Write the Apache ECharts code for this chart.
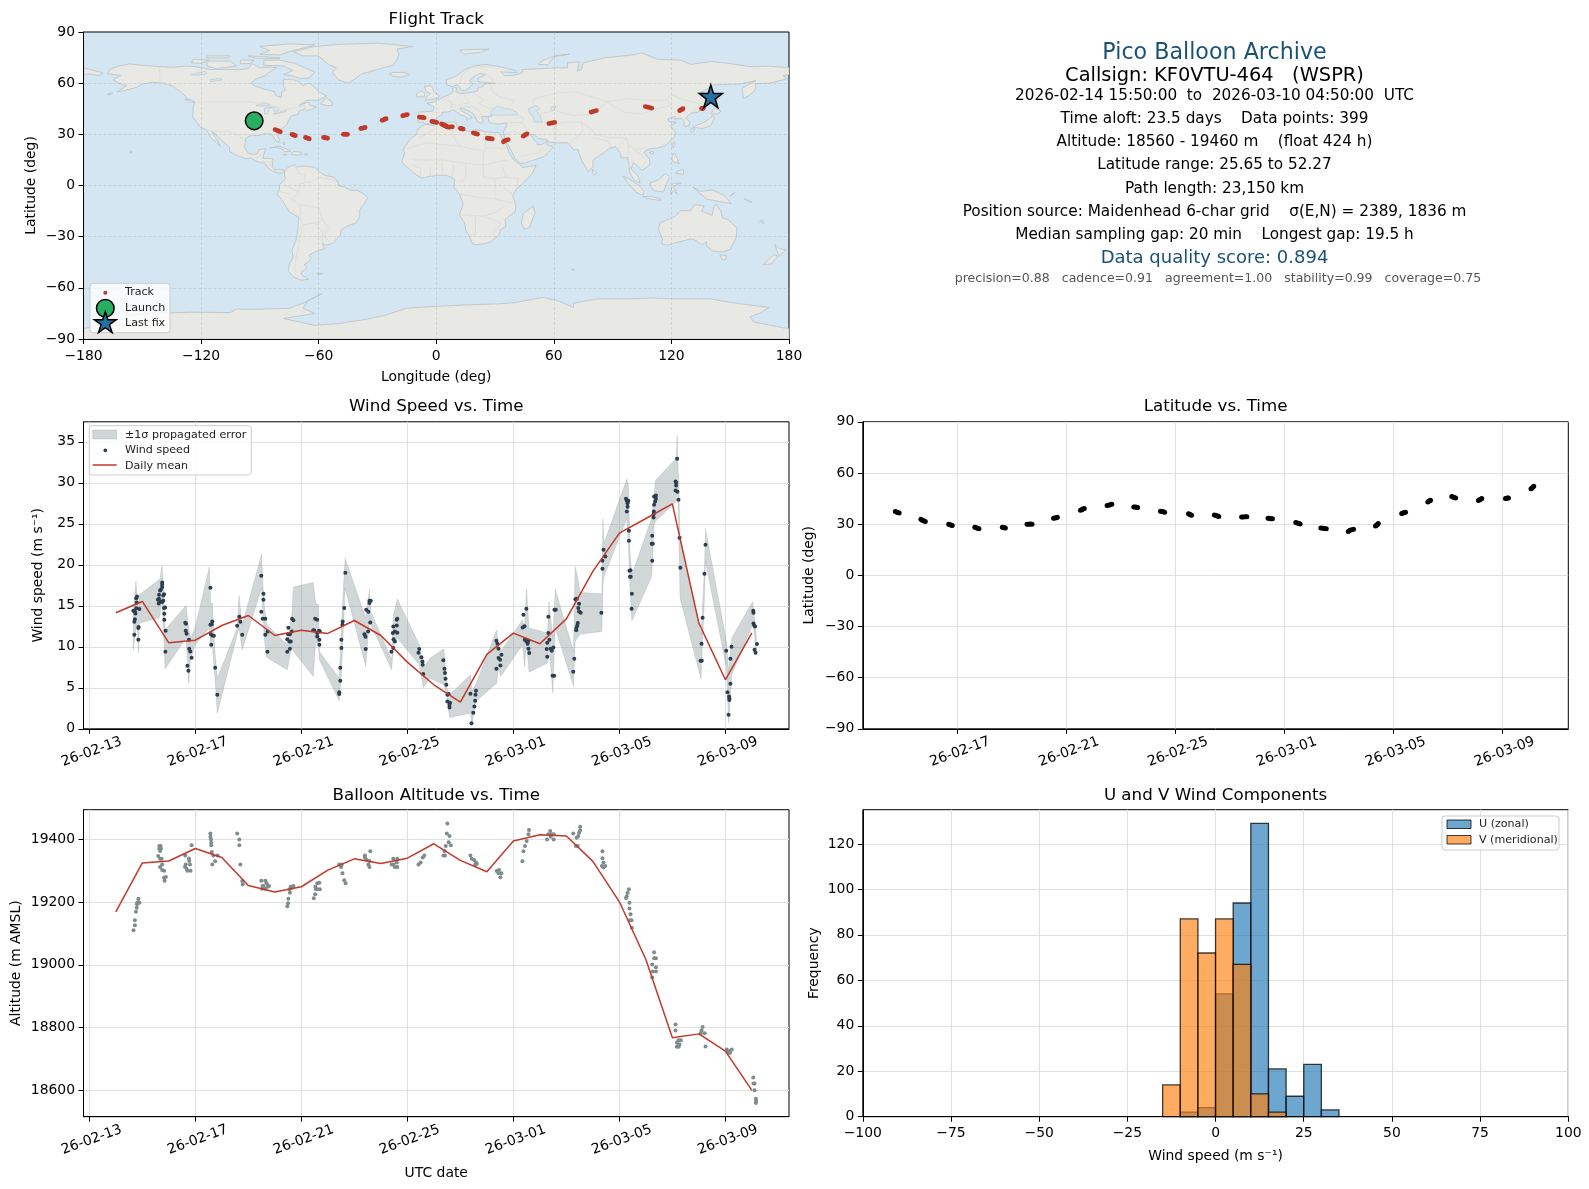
<!DOCTYPE html>
<html><head><meta charset="utf-8"><title>Pico Balloon Archive</title>
<style>html,body{margin:0;padding:0;background:#fff}#c{width:1589px;height:1189px}</style>
<script src="https://cdn.jsdelivr.net/npm/echarts@6/dist/echarts.min.js"></script></head>
<body><div id="c"></div><script>
// ---------- tick labels (time is counted in days since 2026-02-13 00:00) ----------
const dateTicks=[0,4,8,12,16,20,24];
const dateLabels=['26-02-13','26-02-17','26-02-21','26-02-25','26-03-01','26-03-05','26-03-09'];
const windTicks=[0,5,10,15,20,25,30,35];
const altTicks=[18600,18800,19000,19200,19400];
const freqTicks=[0,20,40,60,80,100,120];
// ---------- wind speed [day, m/s] ----------
const windPoints=[
[1.66,14.39],[1.70,11.46],[1.70,13.05],[1.72,13.37],[1.72,14.3],[1.74,14.07],[1.77,15.93],[1.77,14.7],[1.79,15.4],[1.80,16.14],[1.85,12.28],[1.85,10.85],[1.86,12.4],[1.89,14.6],
[2.59,15.73],[2.62,15.28],[2.63,16.34],[2.63,15.85],[2.67,16.87],[2.67,15.53],[2.70,16.95],[2.75,17.85],[2.75,17.56],[2.75,17.28],[2.75,15.45],[2.79,16.26],[2.79,15.61],[2.82,16.42],[2.82,14.72],[2.83,14.02],[2.83,13.29],[2.86,14.80],[2.87,9.39],[2.88,11.95],
[3.62,12.93],[3.64,11.95],[3.65,12.80],[3.67,11.59],[3.70,7.68],[3.74,7.07],[3.76,10.85],[3.77,9.76],[3.81,9.43],[3.86,8.66],
[4.57,17.20],[4.57,12.68],[4.59,11.54],[4.60,10.24],[4.62,12.76],[4.64,13.09],[4.64,11.38],[4.70,11.34],[4.75,7.44],[4.83,4.15],
[5.58,12.56],[5.66,13.66],[5.70,13.05],[5.77,11.46],
[6.49,18.66],[6.49,14.27],[6.54,13.41],[6.57,16.46],[6.57,15.73],[6.64,13.41],[6.64,11.46],[6.72,9.39],[6.73,11.87],
[7.47,10.93],[7.47,9.39],[7.50,11.54],[7.51,12.32],[7.55,10.65],[7.57,11.54],[7.57,9.76],[7.60,10.65],[7.64,11.87],[7.65,13.41],[7.70,13.25],
[8.45,12.03],[8.49,11.99],[8.52,13.41],[8.60,13.29],[8.60,11.67],[8.60,11.26],[8.67,11.95],[8.68,10.85],[8.68,10.24],[8.70,11.87],
[9.43,4.47],[9.43,4.23],[9.47,5.85],[9.47,7.44],[9.51,9.84],[9.51,10.85],[9.55,12.68],[9.56,13.09],[9.62,14.72],[9.66,19.02],
[10.38,11.54],[10.42,11.22],[10.43,9.72],[10.45,14.51],[10.52,11.87],[10.53,14.27],[10.57,15.33],[10.57,15.61],[10.60,12.97],[10.62,15.61],
[11.40,9.39],[11.45,11.67],[11.47,9.84],[11.47,12.48],[11.48,10.93],[11.53,10.65],[11.53,11.87],[11.60,12.60],[11.60,13.29],[11.62,11.71],[11.62,13.41],
[12.42,9.27],[12.45,9.72],[12.53,8.74],[12.57,8.21],[12.58,7.80],[12.60,6.67],
[13.36,8.37],[13.40,7.32],[13.42,6.79],[13.44,6.10],[13.47,5.37],[13.51,4.15],[13.51,3.33],[13.56,4.23],[13.59,2.60],[13.59,2.93],[13.61,3.17],
[14.38,4.27],[14.42,0.69],[14.49,1.95],[14.53,2.72],[14.56,3.41],[14.57,4.15],[14.59,4.63],
[15.36,10.73],[15.36,7.32],[15.40,10.37],[15.44,9.76],[15.44,8.62],[15.50,8.41],[15.51,7.72],[15.55,9.02],
[16.35,12.36],[16.38,13.90],[16.42,12.52],[16.43,10.85],[16.49,14.63],[16.50,10.65],[16.54,10.37],[16.57,10.73],[16.57,9.76],[16.60,9.23],
[17.26,9.72],[17.28,10.49],[17.28,8.78],[17.32,13.66],[17.32,11.67],[17.36,10.85],[17.41,9.76],[17.45,9.51],[17.48,6.46],[17.51,9.92],[17.54,6.46],[17.55,14.51],[17.60,14.51],
[18.26,6.95],[18.30,8.54],[18.34,15.81],[18.37,12.03],[18.38,12.28],[18.39,15.85],[18.41,12.56],[18.43,12.89],[18.45,14.72],[18.48,15.24],[18.48,14.31],[18.54,14.15],
[19.32,14.15],[19.36,19.51],[19.36,20.49],[19.40,21.83],[19.47,21.02],
[20.25,28.05],[20.28,27.80],[20.28,26.50],[20.31,27.52],[20.31,27.07],[20.34,27.80],[20.36,24.15],[20.36,22.93],[20.38,19.27],[20.40,18.54],[20.42,19.35],[20.43,18.54],[20.46,14.63],[20.47,16.46],
[21.22,22.56],[21.24,20.49],[21.24,23.54],[21.26,22.56],[21.29,25.77],[21.29,26.18],[21.30,26.50],[21.31,27.32],[21.31,28.33],[21.35,27.72],[21.38,28.05],[21.38,28.46],
[22.12,30.16],[22.12,29.07],[22.14,30.04],[22.14,29.67],[22.18,32.93],[22.19,28.90],[22.23,27.93],[22.27,23.29],[22.30,19.63],
[23.06,8.29],[23.10,10.37],[23.11,8.29],[23.14,13.54],[23.21,18.90],[23.25,22.44],
[24.03,9.51],[24.08,4.47],[24.12,1.71],[24.14,3.94],[24.15,3.74],[24.15,3.50],[24.19,5.49],[24.19,8.54],[24.23,10.0],
[25.05,14.39],[25.06,14.15],[25.06,12.85],[25.09,12.60],[25.10,9.63],[25.12,12.48],[25.14,9.27],[25.19,10.33]];
// ---------- propagated error band [day, low, high] ----------
const windBand=[
[1.66,9.59,14.31],[1.76,12.28,18.05],[1.81,12.68,15.93],[1.85,9.23,14.31],[1.89,12.89,16.34],[2.63,13.50,18.17],[2.67,13.90,18.37],[2.74,15.93,19.88],[2.79,12.68,17.97],[2.86,7.28,12.07],
[3.65,11.06,15.04],[3.75,5.57,12.28],[3.82,8.41,11.06],[3.99,10.24,12.28],[4.53,12.28,19.76],[4.58,9.76,15.33],[4.64,10.24,15.33],[4.74,6.18,9.43],[4.83,1.91,6.18],
[5.58,11.46,12.28],[5.65,12.28,16.22],[5.77,9.63,12.68],[6.50,17.15,21.30],[6.55,14.31,17.56],[6.60,11.06,15.12],[6.69,8.70,12.68],[7.47,7.20,10.24],[7.64,10.24,13.90],[7.70,9.43,17.28],
[8.45,6.38,17.85],[8.54,10.65,15.33],[8.65,10.24,15.12],[8.68,8.41,9.43],[9.43,3.41,6.18],[9.52,6.99,13.09],[9.65,17.15,20.81],[10.43,7.60,13.50],[10.57,13.50,16.95],[10.62,12.68,14.31],
[11.41,7.20,8.41],[11.47,10.24,13.82],[11.62,11.06,15.85],[12.45,7.80,10.24],[12.60,5.04,7.40],[12.86,6.18,8.62],[13.38,5.37,9.76],[13.49,4.15,4.96],[13.59,1.38,4.15],
[14.39,1.91,6.59],[14.43,0.28,4.55],[14.58,3.33,5.37],[15.37,5.57,12.07],[15.44,7.40,10.24],[15.52,6.38,9.43],[16.35,10.24,13.29],[16.42,7.60,12.28],[16.50,10.24,17.07],[16.59,6.91,12.28],
[17.29,8.01,11.67],[17.34,10.24,15.53],[17.49,4.35,11.06],[17.58,12.28,17.03],[18.27,5.16,9.43],[18.33,10.65,19.80],[18.42,11.06,18.58],[18.52,11.54,16.63],
[19.34,11.87,16.46],[19.38,17.56,25.57],[19.42,18.58,22.64],[20.28,25.69,30.45],[20.34,22.44,29.76],[20.40,17.15,21.63],[20.47,13.17,18.78],
[21.22,18.58,25.69],[21.31,24.88,28.54],[21.36,25.28,30.28],[22.14,27.72,33.01],[22.18,30.16,35.73],[22.23,26.10,30.57],[22.29,15.93,23.46],
[23.08,6.06,11.46],[23.21,15.93,19.59],[23.25,20.41,24.39],[24.04,7.40,10.65],[24.12,0.69,6.99],[24.24,6.59,11.06],[25.03,12.68,15.53],[25.10,11.46,13.50],[25.16,9.02,11.46]];
// ---------- daily means, one per day starting at day 1 ----------
const meanDays=[1,2,3,4,5,6,7,8,9,10,11,12,13,14,15,16,17,18,19,20,21,22,23,24,25];
const windMean=[14.15,15.53,10.49,10.81,12.60,13.82,11.38,12.03,11.63,13.21,11.38,8.13,5.37,3.25,9.07,11.67,10.37,13.41,19.19,23.86,25.65,27.44,12.89,5.98,11.71];
const altMean=[19169,19325,19331,19371,19342,19253,19232,19249,19302,19338,19323,19340,19386,19333,19297,19395,19415,19411,19330,19201,19017,18768,18780,18725,18600];
// ---------- altitude [day, m] ----------
const altPoints=[
[1.67,19110],[1.72,19126],[1.72,19142],[1.76,19169],[1.79,19182],[1.80,19193],[1.81,19198],[1.85,19211],[1.85,19200],[1.89,19198],
[2.60,19347],[2.64,19379],[2.64,19370],[2.67,19363],[2.67,19338],[2.67,19312],[2.69,19379],[2.70,19370],[2.73,19338],[2.75,19320],[2.75,19302],[2.82,19300],[2.82,19278],[2.84,19268],[2.89,19280],
[3.61,19313],[3.62,19349],[3.64,19320],[3.67,19306],[3.70,19300],[3.76,19339],[3.77,19331],[3.80,19320],[3.82,19300],[3.86,19381],
[4.57,19419],[4.57,19408],[4.59,19400],[4.60,19389],[4.60,19381],[4.62,19360],[4.64,19320],[4.68,19349],[4.75,19330],[4.84,19349],
[5.58,19419],[5.66,19400],[5.66,19381],[5.70,19320],[5.77,19267],[5.79,19257],
[6.49,19268],[6.52,19243],[6.54,19251],[6.57,19251],[6.64,19268],[6.64,19243],[6.69,19260],[6.73,19249],[6.78,19251],
[7.47,19187],[7.50,19196],[7.51,19211],[7.55,19241],[7.57,19230],[7.60,19249],[7.65,19246],[7.70,19251],
[8.47,19212],[8.52,19225],[8.53,19249],[8.55,19241],[8.60,19260],[8.60,19241],[8.68,19262],[8.70,19241],
[9.43,19320],[9.50,19312],[9.52,19320],[9.55,19292],[9.62,19270],[9.67,19260],
[10.40,19349],[10.40,19342],[10.45,19336],[10.53,19320],[10.57,19331],[10.57,19312],[10.60,19362],
[11.41,19320],[11.47,19338],[11.47,19320],[11.53,19312],[11.60,19326],[11.62,19338],[11.62,19312],
[12.42,19320],[12.50,19326],[12.58,19342],[12.64,19349],
[13.36,19349],[13.40,19363],[13.42,19349],[13.45,19379],[13.49,19419],[13.51,19451],[13.56,19391],[13.59,19411],[13.64,19381],
[14.38,19349],[14.43,19338],[14.52,19334],[14.56,19319],[14.59,19326],[14.62,19322],
[15.37,19299],[15.44,19292],[15.46,19302],[15.51,19279],[15.55,19292],
[16.34,19330],[16.38,19362],[16.44,19379],[16.50,19395],[16.57,19416],[16.59,19430],
[17.27,19400],[17.32,19416],[17.39,19427],[17.41,19408],[17.45,19416],[17.52,19400],[17.53,19416],
[18.26,19419],[18.36,19379],[18.39,19405],[18.43,19379],[18.45,19411],[18.48,19421],[18.52,19440],[18.52,19429],
[19.34,19315],[19.36,19362],[19.36,19340],[19.40,19326],[19.40,19310],[19.47,19315],
[20.25,19213],[20.28,19219],[20.31,19230],[20.36,19241],[20.38,19198],[20.38,19180],[20.40,19142],[20.42,19161],[20.46,19142],[20.47,19118],
[21.24,19001],[21.24,18960],[21.26,18979],[21.31,19040],[21.31,19021],[21.38,19021],[21.38,18992],[21.38,18979],
[22.12,18810],[22.12,18791],[22.17,18752],[22.17,18739],[22.23,18760],[22.24,18739],[22.27,18746],[22.32,18760],
[23.07,18782],[23.10,18791],[23.14,18802],[23.22,18782],[23.25,18740],
[24.05,18730],[24.08,18725],[24.12,18720],[24.14,18725],[24.18,18720],[24.24,18730],
[25.05,18641],[25.06,18622],[25.10,18622],[25.10,18600],[25.15,18573],[25.15,18560],[25.16,18566]];
// ---------- latitude and longitude of the fixes, same order ----------
const fixDays=[1.71,1.75,1.80,1.85,2.65,2.70,2.75,2.81,3.67,3.71,3.76,3.80,4.63,4.68,4.73,4.78,5.64,5.68,5.71,5.75,6.55,6.61,6.67,6.73,7.52,7.57,7.62,7.66,8.51,8.56,8.60,8.65,9.49,9.55,9.60,9.66,10.47,10.52,10.57,10.61,11.45,11.50,11.55,11.60,12.48,12.52,12.55,12.59,13.43,13.49,13.54,13.59,14.43,14.49,14.56,14.62,15.40,15.45,15.51,15.56,16.42,16.47,16.53,16.58,17.34,17.41,17.47,17.54,18.35,18.41,18.48,18.54,19.35,19.38,19.42,19.45,20.31,20.36,20.41,20.45,21.27,21.30,21.34,21.37,22.15,22.20,22.24,22.29,23.13,23.17,23.21,23.25,24.12,24.16,24.19,24.23,25.06,25.09,25.13,25.16];
const fixLat=[37.45,37.15,36.85,36.55,32.8,32.35,31.95,31.5,30.0,29.7,29.5,29.2,28.2,27.9,27.6,27.3,28.2,28.0,27.9,27.7,30.0,30.0,30.05,30.0,33.4,33.6,33.8,34.0,38.2,38.5,38.9,39.2,40.9,41.1,41.4,41.6,40.1,40.0,39.9,39.7,37.6,37.4,37.2,37.0,36.1,35.8,35.5,35.2,35.35,35.05,34.75,34.45,34.2,34.25,34.35,34.4,33.5,33.4,33.2,33.1,30.9,30.6,30.4,30.1,27.7,27.6,27.4,27.3,25.65,26.35,26.65,26.95,28.9,29.35,29.8,30.3,36.3,36.55,36.75,37.0,43.05,43.35,43.65,43.95,46.25,45.95,45.65,45.35,43.9,44.3,44.6,45.0,45.1,45.15,45.25,45.3,50.7,51.1,51.8,52.27];
const fixLon=[-92.0,-91.3,-90.6,-89.9,-82.2,-81.3,-80.5,-79.6,-73.6,-73.0,-72.5,-71.9,-66.7,-66.0,-65.4,-64.8,-57.5,-56.8,-56.2,-55.5,-47.4,-46.7,-46.0,-45.3,-38.5,-37.8,-37.0,-36.3,-27.6,-26.9,-26.3,-25.6,-17.1,-16.3,-15.6,-14.8,-8.6,-7.8,-7.0,-6.2,-2.2,-1.4,-0.6,0.2,2.7,3.2,3.6,4.1,4.1,4.5,5.0,5.5,6.1,6.8,7.5,8.2,12.3,12.8,13.2,13.7,18.9,19.6,20.3,21.0,26.1,26.9,27.7,28.6,34.3,35.1,35.9,36.7,44.4,45.0,45.6,46.3,57.5,58.5,59.4,60.4,79.0,79.9,80.8,81.7,106.7,107.8,108.9,109.9,124.2,124.8,125.3,125.9,135.4,135.7,136.0,136.2,139.1,139.4,139.7,140.1];
const launchFix=[-92.9,37.9];
const lastFix=[140.1,52.27];
// ---------- histogram bins [from, to, count] ----------
const uBins=[[-10,-5,2],[-5,0,4],[0,5,54],[5,10,94],[10,15,129],[15,20,21],[20,25,9],[25,30,23],[30,35,3]];
const vBins=[[-15,-10,14],[-10,-5,87],[-5,0,72],[0,5,87],[5,10,67],[10,15,10],[15,20,2]];
// ---------- simplified world outline, [lon, lat] ----------
const landShapes=[
[[-168,65.5],[-166,68.5],[-162,70],[-156.5,71.3],[-150,70.5],[-141,69.7],[-135,69.3],[-128,70],[-124,69.8],[-115,68],[-108,68],[-100,68],[-96,68.5],[-94,71.5],[-90,69],[-85,69.5],[-81.5,69],[-86,66],[-87,64.5],[-92,62.5],[-94.5,60],[-93,58.5],[-88,56.5],[-82.5,55],[-82,52.8],[-79,51.5],[-79,54.5],[-77,56],[-78,58.5],[-78,62.3],[-73,62],[-70,61],[-68,58.5],[-65,60],[-62,57.5],[-60,55],[-56,52.5],[-60,50],[-66,50],[-70,47],[-65,49],[-64.5,47],[-61,46],[-64,44.5],[-66,44],[-67,45],[-70,43.7],[-70.5,41.7],[-74,40.7],[-75.5,38],[-76,36],[-78,34],[-81,32],[-81.5,30],[-80,26.8],[-80.5,25.2],[-81.8,26],[-82.8,28],[-84,30],[-86,30.4],[-89,30.2],[-90,29.2],[-94,29.5],[-97,28],[-97.5,25],[-97.8,22.5],[-96,19],[-94,18.2],[-91.5,18.5],[-90.5,21],[-87,21.5],[-88,18],[-88.5,16],[-84,15.8],[-83.3,15],[-83.7,11],[-82.5,9.2],[-79.5,9.5],[-77.3,8.7],[-78.5,7.5],[-80.5,7.3],[-83,8.2],[-85.5,10],[-87.5,13],[-91.5,14],[-94.5,16.2],[-97,15.8],[-101.5,17.5],[-105.5,20],[-105.5,22.5],[-109,26],[-112.5,30],[-114.7,31.7],[-112.5,27.5],[-110,23],[-112,25],[-115,28],[-117.2,32.5],[-120.5,34.5],[-122.5,37.5],[-124.3,40.3],[-124,46],[-123,49],[-127,51],[-130,54.5],[-134,58],[-139,60],[-145,60.5],[-150,59.5],[-153,57.5],[-158,56],[-163,54.8],[-158,58.5],[-162,60],[-165,62],[-161,64.5]],
[[-80,73.5],[-72,71.5],[-67,69],[-62,66.5],[-65,63],[-70,62.8],[-74,64.5],[-78,65],[-73,67.5],[-78,70],[-88,70.5],[-88,73.5]],
[[-117,73],[-105,73],[-102,70],[-112,68.5],[-117,70]],
[[-124,74],[-116,73.5],[-120,71.5],[-125,72]],
[[-90,77],[-80,76.5],[-75,78.5],[-65,81.5],[-62,82.5],[-75,83],[-90,81.5],[-85,79]],
[[-96,76],[-80,75],[-80,74.5],[-92,74.5]],
[[-117,76],[-105,76],[-106,74.8],[-117,74.8]],
[[-100,73.5],[-93,73.5],[-95,71.5],[-100,71.5]],
[[-59,47.7],[-55.5,46.8],[-53,47],[-53,48.5],[-56,51.5],[-58,49.5]],
[[-128.3,50.6],[-125,50],[-123.5,48.5],[-125.5,48.8]],
[[-73,78.5],[-68,76],[-60,76],[-55,71],[-51,69],[-53,66.5],[-50,62],[-45,60],[-42,62],[-38,65.5],[-30,68],[-22,70.5],[-20,74],[-19,77],[-20,80],[-12,81.5],[-30,83.5],[-50,82.7],[-62,81.5]],
[[-24,65.5],[-22,64],[-18,63.5],[-14,65],[-16,66.3],[-22,66.3]],
[[-85,22],[-80,23],[-75,20.7],[-74.2,20],[-77.5,19.9],[-78.5,21.5],[-82,22.5]],
[[-74.4,18.5],[-72.5,20],[-69,19.5],[-68.5,18.4],[-71.5,17.8]],
[[-78.3,18.3],[-76.3,18.2],[-76.5,17.9],[-78,17.9]],
[[-67.2,18.4],[-65.7,18.3],[-65.8,18],[-67,18]],
[[-78.5,25],[-77.5,25.5],[-77.2,24],[-78,24]],
[[-156,19],[-155,19.7],[-155.8,20.2],[-156,19.7]],
[[-168,53.5],[-165,54.2],[-166,53.5]],
[[-77.3,8.7],[-75.5,10.8],[-72,12.2],[-71.5,10.8],[-68,11.5],[-62,10.7],[-60,8.3],[-57,6],[-52,4.8],[-50,1.5],[-50,0],[-47,-0.8],[-44,-2.7],[-40,-3],[-37,-5],[-35,-7],[-37,-11],[-39,-14],[-39,-18],[-41,-22],[-45,-23.5],[-48.5,-26],[-49,-29],[-53,-34],[-56,-34.9],[-58.3,-34],[-57,-37],[-62,-39],[-65,-41],[-63.7,-42.5],[-65.5,-45],[-67.5,-46.5],[-65.8,-48],[-69,-51],[-68.5,-52.5],[-65,-55],[-69,-55.5],[-73,-53.5],[-75.5,-50],[-75,-46],[-73,-42],[-73.7,-38],[-71.5,-32],[-70.5,-25],[-70.3,-18.5],[-75,-15.5],[-79,-8],[-81.3,-5],[-80,-2.5],[-80,0.5],[-78.5,2],[-77,4],[-77.5,7]],
[[-61,-51.5],[-58,-51.5],[-59,-52.3],[-60.5,-52.2]],
[[-6,35.8],[-2,35.2],[3,36.9],[10,37.3],[11,34],[15,32.3],[20,31],[20,32.8],[25,31.6],[29,31],[32,31.2],[32.5,30],[34,27],[36,23],[37.2,19],[39.5,15],[43,12],[44,10.5],[51,11.8],[49,7],[45,2],[41,-2],[39,-6],[40.5,-11],[40.5,-15],[35,-20],[35.5,-24],[32.8,-26],[32,-29],[28,-33],[25,-34],[20,-34.8],[18.3,-34],[17,-30],[15,-26],[14.5,-22],[11.8,-17],[13.7,-11],[12,-5],[9,-1],[9.5,3.5],[8,4.5],[5,6],[1,6],[-4,5.2],[-7.5,4.4],[-11,6.8],[-13.5,9.5],[-16.7,12.5],[-17.5,14.7],[-16,19],[-17,21],[-15,24.5],[-13,27.7],[-10,30],[-9.5,33]],
[[49.3,-12],[50.4,-16],[47.5,-24.8],[45,-25.6],[43.5,-22],[44.5,-16.5]],
[[-9,37],[-9.5,39],[-9,43],[-2,43.5],[-1,46],[-4.7,48.3],[-1.5,48.8],[1.5,50.5],[4,52],[7,53.5],[8.5,55],[8.2,57],[10.5,57.5],[10,55],[12,54],[14,54],[18.5,54.7],[21,55.5],[21.5,57.5],[24,58],[24,59.4],[30,60],[25,60.2],[21.5,61],[21.5,63],[25,65],[22.3,65.8],[17.5,62.5],[17.3,60.7],[18.8,59.5],[16.5,57],[14.3,55.6],[12.8,56],[11,59],[8,58],[5.5,59],[5,62],[10,64],[14.5,68],[19,70],[25,71],[31,70],[40,67.5],[41,66.2],[34.5,66.5],[33,66.7],[35,64.3],[40,64.7],[44,66.2],[44,68],[54,68.5],[60,69],[67,69],[67,72],[73,72.5],[72,67],[74,68],[75,72],[81,73.5],[87,75],[100,76.5],[105,77.7],[113,74],[125,73.5],[130,71],[140,72.7],[150,71.5],[160,69.7],[170,70],[180,69],[180,65],[177,64.5],[179,62.5],[170,60],[163,59.7],[163,56.5],[160,53],[156.7,51],[156,57],[163,61.5],[155,59.5],[142,59],[135,54.7],[141,53],[140,48],[133,42.8],[130,42.5],[127.5,39.8],[129.4,37],[129,35.2],[126.5,34.5],[126.5,37.5],[125,39.5],[121.5,39],[122,40.5],[118,39],[119,37.3],[122.5,37],[119.5,35],[122,31.5],[121.5,28.5],[117,23.5],[113,22],[108.5,21.5],[106,19.5],[108.8,15.5],[109,12],[105,9],[103,11],[100.5,13.5],[99.5,9.5],[103,5.5],[104,1.5],[101,3],[98.5,8],[98.5,12],[97.5,16.5],[94.5,16],[94,19],[91.5,22.7],[88,21.7],[86.5,20],[82,16.5],[80,15],[80,11],[77.5,8],[74.5,14],[72.8,19],[72.5,21],[70,21],[69,22.5],[67,25],[61.5,25],[57,25.5],[56.5,27],[52,27.5],[50,30],[48,30],[50,26.5],[51.5,25],[51.5,24],[54,24],[56.3,26],[56.5,24],[59.7,22.5],[55,17],[45,13],[43,13],[40,16],[38.5,20],[36,25],[35,28],[34.5,30],[34.2,31.3],[35.7,34.5],[36,36.7],[32,36],[29,36.3],[27,37],[26.5,40],[28.5,41],[26.5,40.3],[23,40.5],[24,38],[23,36.5],[21,37.5],[19.5,41],[18.5,42.5],[14,45.2],[12.3,45.5],[12.5,44],[16,41.8],[18.4,40],[16.8,39.5],[15.7,38],[15.5,40],[12.5,41.5],[10.5,43],[8.8,44.4],[6,43],[3.2,43],[3.2,41.8],[0,39.5],[-0.7,37.7],[-2,36.8],[-5.5,36],[-7,37.2]],
[[-180,69],[-175,67.5],[-170,66],[-172,64.5],[-178,65.5],[-180,65]],
[[-5.5,50],[1,51.2],[1.5,52.8],[-1,54.5],[-2,57.5],[-3.5,58.6],[-6,58],[-5,55],[-3,54],[-5,52]],
[[-10,52],[-6,52],[-6,54.5],[-8,55.3],[-10,54]],
[[14,77],[22,78],[27,80],[12,79.5]],
[[52,71],[57,70.8],[60,75.5],[68,77],[60,76],[54,73]],
[[130.9,34],[136,33.5],[140,35],[142,39.5],[141,41.3],[139.8,39.5],[136.7,37],[132,35]],
[[140,42],[143.5,42],[145.3,43.5],[142,45.4],[141,43.5]],
[[130,33.3],[131.8,33],[131,31],[130,31.5]],
[[142,46],[143.5,49],[143,54],[142,53],[142,48]],
[[120.2,23],[121,22],[122,25],[121,25.2]],
[[108.7,19.3],[110.5,18.3],[111,19.7],[110,20]],
[[120.3,16],[120.8,14],[124,12.8],[122,18.5],[120.6,18.5]],
[[122,7.2],[126.3,6.5],[126,9.5],[123.5,8.5]],
[[109,1.5],[113,3],[117,7],[119,5],[117.5,1],[116,-3.8],[111,-3],[109.5,-0.5]],
[[95.5,5.5],[98,4],[103.5,0],[106,-3.5],[105.5,-5.8],[102,-4],[98,1]],
[[105.5,-6.5],[110,-6.5],[114.5,-7.7],[114.5,-8.7],[108,-7.8]],
[[119.5,-5.5],[120.5,1],[125,1.5],[121,-0.5],[123,-5],[121,-3]],
[[131,-1],[135,-3.5],[141,-2.6],[147,-6],[150.5,-10.5],[147,-10],[143,-9],[138,-8],[134,-4]],
[[79.8,9.5],[81.8,7.5],[80.5,6],[79.8,7.5]],
[[151,-5],[152.5,-4.2],[150,-6.3]],
[[157,-7.5],[160,-9],[161,-10],[158,-8.7]],
[[166.5,-20],[165,-21.3],[167,-22.3]],
[[114,-22],[113.5,-26],[115.5,-31.5],[115,-34.3],[118,-35],[124,-33],[129,-31.6],[131.5,-31.5],[135.5,-34.8],[138,-33],[138,-35.5],[141,-38.3],[146,-39],[150,-37.5],[153,-31],[153.5,-25],[149,-20],[146,-19],[145.3,-15],[142.7,-11],[141.5,-13],[140.8,-17.5],[135.5,-15],[136.8,-12],[132,-11.2],[129.5,-15],[125,-14.5],[122,-18],[117,-20.5]],
[[144.7,-40.8],[148.3,-41],[147.5,-43.5],[146,-43.5]],
[[172.7,-34.5],[175,-37],[178.5,-37.7],[175,-41.5],[174,-39]],
[[172.5,-40.5],[174.3,-41.5],[171,-46],[167,-46.3],[170,-43]],
[[69,-49],[70.5,-49.3],[69.5,-50]],
[[-180,-84],[-165,-80],[-155,-76],[-145,-75],[-125,-74.3],[-105,-74.5],[-102,-72.5],[-90,-72.5],[-75,-72],[-68,-69],[-58,-63.3],[-62,-65.5],[-66,-68],[-68,-72],[-62,-75],[-78,-78],[-62,-82],[-50,-81],[-36,-78.5],[-26,-76],[-15,-72],[-3,-71],[15,-70],[30,-69.5],[40,-68.7],[54.5,-65.6],[62,-67.5],[70,-71.5],[70,-69],[82,-66.5],[95,-66.5],[110,-66],[125,-66.5],[140,-66.5],[150,-68.5],[163,-70.5],[170,-71.5],[165,-75],[160,-77],[162,-80],[175,-83],[180,-84],[180,-90],[-180,-90]]];
const waterShapes=[
[[28,41.5],[31,41.2],[36,41.3],[41.5,41.5],[41,43],[37.5,45],[35,45],[33.5,46],[30.5,46.3],[28,43.5]],
[[47,45],[51,47],[53,45],[51,44],[53,41],[54,37],[50,37.3],[49.5,40],[47.5,43]],
[[-92,46.8],[-88,48.7],[-85,47.5],[-85,46.6],[-89,46.7]],
[[-87.8,42],[-86.3,42],[-84.8,46],[-81,46],[-80,44.7],[-82,43],[-83.5,45],[-85,45.8],[-87.5,45.5]],
[[-83,41.7],[-79,42.7],[-76.5,43.5],[-76.5,44.2],[-79.5,43.5],[-79,43],[-83,42.2]],
[[-125,65],[-118,67],[-117,65.5],[-122,64.5]],
[[-116,62],[-110,62.8],[-109,62],[-115,60.8]],
[[58.5,46],[61,46.5],[60,44],[58.5,44]]];
const borderLines=[
[[-123,49],[-95,49],[-89,48],[-83,46],[-82,43],[-79,43],[-75,45],[-70,46],[-67,47.3],[-67,45]],
[[-141,69.7],[-141,60],[-135,59],[-130,55]],
[[-117,32.5],[-108,31.5],[-106,31.7],[-101,29.5],[-97.5,26]],
[[-92,14.5],[-91,17.5],[-89,18]],[[-89,14],[-85,14],[-84,11]],
[[-72,12],[-70,7],[-67,6],[-67,2]],[[-52,3],[-60,5],[-64,2],[-70,1],[-70,-4],[-74,-8],[-70,-11],[-60,-13],[-58,-20],[-55,-25],[-57.5,-30],[-53.5,-33.5]],
[[-70,-18],[-68,-23],[-70,-33],[-72,-45],[-72,-52]],[[-78,0.5],[-75,-1],[-70,-4]],[[-80,-3.5],[-75,-5]],[[-70,-11],[-69,-16],[-70,-18]],[[-68,-23],[-62,-22],[-58,-20]],[[-62,-22],[-58,-27],[-58,-34]],
[[-2,43.3],[3,42.5]],[[-7,42],[-7,37.2]],[[3,51],[8,49],[7.5,44]],[[6,51],[7,53.5]],[[14,54],[15,51],[17,48.5],[10,47],[7,48]],
[[19,54.4],[24,50.5],[22,48],[27,45],[29,45.3]],[[28,60],[28,56],[32,52],[40,50],[38,47]],[[13,46],[19,46],[22,44],[23,41]],
[[12,60],[13,65],[18,69],[29,70]],[[24,66],[29,62],[28,60]],[[26,41],[28,42]],
[[87,49],[98,51],[107,50],[117,50],[120,53],[127,50],[135,48],[131,43]],[[87,49],[96,43],[105,42],[112,45],[120,47],[117,50]],
[[74,37],[79,33],[81,30],[88,28],[97,28],[98,24],[101,21],[107,22]],[[50,51],[61,54],[70,55],[77,53],[87,49],[80,42],[70,41],[60,44],[53,42]],
[[47,43],[49,46],[50,51]],[[44,37],[46,33],[48,30]],[[61,36],[61,25.5]],[[54,37.5],[61,36],[66,37.3],[74,37],[75,32],[70,27],[68,24]],
[[35,29.5],[39,32],[46,29],[48,28.5]],[[43,17],[52,19],[55,22]],[[36,36.7],[44,37],[44.5,39.5],[41.5,41.5]],
[[98,24],[98,16],[99,10]],[[101,21],[105,18],[107,14],[105,10.5]],[[80,28],[88,26],[89,22]],[[97,28],[94,24],[92.5,21]],
[[-9,27.7],[-1,33],[-1,35.2]],[[10,37],[8,30],[12,23],[25,20],[25,31.5]],[[25,22],[37,22]],[[-17,21],[-5,25],[12,23]],[[-12,15],[3,15],[15,13],[24,12],[36,15]],
[[3,6],[3,15]],[[15,13],[15,4],[12,2]],[[24,20],[24,5],[30,4],[35,5],[42,4]],[[30,4],[30,-8],[40,-10.7]],[[12,-5],[22,-7],[30,-8]],[[12,-17],[24,-18],[33,-22]],[[20,-18],[20,-29],[17,-29]],[[33,-22],[31,-26],[28,-29]],
[[-8,4.5],[-8,10],[-12,12]],[[-3,5],[-3,11]],[[8,5],[9,12]],[[34,11],[36,4]],[[42,4],[41,-2]],[[34,-1],[39,-5]],[[24,-18],[30,-16],[35,-12]]];
// ---------- panel texts ----------
const panelTitle='Pico Balloon Archive';
const panelCall='Callsign: KF0VTU-464   (WSPR)';
const panelRows=['2026-02-14 15:50:00  to  2026-03-10 04:50:00  UTC','Time aloft: 23.5 days    Data points: 399','Altitude: 18560 - 19460 m    (float 424 h)','Latitude range: 25.65 to 52.27','Path length: 23,150 km','Position source: Maidenhead 6-char grid    σ(E,N) = 2389, 1836 m','Median sampling gap: 20 min    Longest gap: 19.5 h'];
const panelScore='Data quality score: 0.894';
const panelSub='precision=0.88   cadence=0.91   agreement=1.00   stability=0.99   coverage=0.75';

const FONT='"DejaVu Sans"';
const RED='#c0392b',NAVY='#2c3e50',GRAY='#7f8c8d',GRID='#e0e0e0',BLUE='#1a5276';
const L1=83.5,L2=862.8,W=705.5,H=307,T1=32,T2=421.8,T3=809.7;
const minus=v=>String(v).replace('-','\u2212');
const dateFmt=v=>{const i=dateTicks.indexOf(v);return i<0?'':dateLabels[i];};
function grid(left,top,bg){return {left,top,width:W,height:H,show:true,borderColor:'#000',borderWidth:1,backgroundColor:bg||'transparent',containLabel:false};}
function axisBase(gi,extra,margin){
  return Object.assign({gridIndex:gi,type:'value',scale:false,
    axisLine:{show:true,onZero:false,lineStyle:{color:'#000',width:1}},
    axisTick:{show:true,length:5,lineStyle:{color:'#000',width:1},inside:false},
    axisLabel:{color:'#000',fontFamily:FONT,fontSize:13.9,margin:margin||8.5,formatter:minus,hideOverlap:false},
    splitLine:{show:true,lineStyle:{color:GRID,width:1}},
    nameTextStyle:{color:'#000',fontFamily:FONT,fontSize:13.9},nameLocation:'middle'},extra||{});
}
function dateAxis(gi,min,max,ticks,extra){
  const a=axisBase(gi,Object.assign({min,max},extra||{}));
  a.axisTick.customValues=ticks;
  a.axisLabel=Object.assign(a.axisLabel,{customValues:ticks,formatter:dateFmt,rotate:20,align:'center',verticalAlign:'top',margin:16.5});
  return a;
}
function customY(gi,min,max,ticks,extra){
  const a=axisBase(gi,Object.assign({min,max},extra||{}));
  a.axisTick.customValues=ticks; a.axisLabel.customValues=ticks;
  return a;
}
const polyStyle=(fill,stroke,w)=>({fill,stroke,lineWidth:w});
function drawShape(shapes,closed,style){
  return function(params,api){
    const pts=shapes[params.dataIndex].map(p=>api.coord(p));
    const cs=params.coordSys;
    return {type:closed?'polygon':'polyline',shape:{points:pts},style,
      clipPath:{type:'rect',shape:{x:cs.x,y:cs.y,width:cs.width,height:cs.height}}};
  };
}
function drawBand(params,api){
  if(params.dataIndex!==0) return null;
  const upper=windBand.map(r=>api.coord([r[0],r[2]]));
  const lower=windBand.map(r=>api.coord([r[0],r[1]])).reverse();
  return {type:'polygon',shape:{points:upper.concat(lower)},style:{fill:'rgba(127,140,141,0.36)',stroke:'rgba(127,140,141,0.25)',lineWidth:0.8}};
}
function drawBins(fill,edge){
  return function(params,api){
    const a=api.coord([api.value(0),0]),b=api.coord([api.value(1),api.value(2)]);
    return {type:'rect',shape:{x:a[0],y:b[1],width:b[0]-a[0],height:a[1]-b[1]},style:{fill,stroke:edge,lineWidth:1.3}};
  };
}
const idx=a=>a.map((_,i)=>[i]);
const STAR='path://M50 2 L61.2 36.5 L97.6 36.5 L68.2 57.9 L79.4 92.5 L50 71.1 L20.6 92.5 L31.8 57.9 L2.4 36.5 L38.8 36.5 Z';
function starPts(cx,cy,R){const o=[];for(let i=0;i<10;i++){const r=i%2?R*0.382:R,a=-Math.PI/2+i*Math.PI/5;o.push([cx+r*Math.cos(a),cy+r*Math.sin(a)]);}return o;}

const titles=[['Flight Track',L1+W/2,T1-21],['Wind Speed vs. Time',L1+W/2,T2-23.5],['Latitude vs. Time',L2+W/2,T2-23.5],['Balloon Altitude vs. Time',L1+W/2,T3-23],['U and V Wind Components',L2+W/2,T3-23]]
  .map(t=>({text:t[0],left:t[1],top:t[2],textAlign:'center',padding:0,textStyle:{fontFamily:FONT,fontSize:16.67,fontWeight:'normal',color:'#000'}}));

function txt(text,x,y,size,fill,align){return {type:'text',z:100,style:{text,x,y,fontFamily:FONT,fontSize:size,fill,align:align||'center',verticalAlign:'middle',textAlign:align||'center',textVerticalAlign:'middle'}};}
const g=[];
const PX=1214.5;
g.push(txt(panelTitle,PX,52.8,22.2,BLUE));
g.push(txt(panelCall,PX,75.8,19.4,'#000'));
panelRows.forEach((r,i)=>g.push(txt(r,PX,96.3+i*23.07,15.28,'#000')));
g.push(txt(panelScore,PX,258.3,18,BLUE));
g.push(txt(panelSub,PX+3.5,279,12.55,'#555'));
function box(x,y,w,h){return {type:'rect',z:99,shape:{x,y,width:w,height:h,r:3},style:{fill:'rgba(255,255,255,0.8)',stroke:'#ccc',lineWidth:1}};}
// map legend
g.push(box(90,283.3,80,49.4));
g.push({type:'circle',z:100,shape:{cx:105.3,cy:292.7,r:2},style:{fill:RED}});
g.push({type:'circle',z:100,shape:{cx:105.3,cy:308.3,r:8.8},style:{fill:'#27ae60',stroke:'#000',lineWidth:1.5}});
g.push({type:'polygon',z:101,shape:{points:starPts(105.3,323.3,11.5)},style:{fill:'#2471a3',stroke:'#000',lineWidth:1.5}});
[['Track',292.3],['Launch',308.3],['Last fix',323.3]].forEach(t=>g.push(txt(t[0],125,t[1],11.1,'#222','left')));
// wind legend
g.push(box(89.3,425.7,162,49.3));
g.push({type:'rect',z:100,shape:{x:92.7,y:430,width:24,height:9},style:{fill:'rgba(127,140,141,0.36)',stroke:'rgba(127,140,141,0.25)'}});
g.push({type:'circle',z:100,shape:{cx:105.3,cy:450.3,r:1.9},style:{fill:NAVY}});
g.push({type:'line',z:100,shape:{x1:92.7,y1:465,x2:116.7,y2:465},style:{stroke:RED,lineWidth:1.5}});
[['±1σ propagated error',435.3],['Wind speed',450.3],['Daily mean',466]].forEach(t=>g.push(txt(t[0],125,t[1],11.1,'#222','left')));
// histogram legend
g.push(box(1442,816,117,34));
g.push({type:'rect',z:100,shape:{x:1447,y:820,width:24,height:8.5},style:{fill:'rgba(31,119,180,0.65)',stroke:'rgba(0,0,0,0.75)',lineWidth:1}});
g.push({type:'rect',z:100,shape:{x:1447,y:835.5,width:24,height:8.5},style:{fill:'rgba(255,127,14,0.65)',stroke:'rgba(0,0,0,0.75)',lineWidth:1}});
[['U (zonal)',824.5],['V (meridional)',840]].forEach(t=>g.push(txt(t[0],1479,t[1],11.1,'#222','left')));

const mapGrid={show:true,lineStyle:{color:'rgba(140,140,140,0.28)',width:0.8,type:[3,2]}};
const solid=c=>({color:c,opacity:1});
const option={
  animation:false,backgroundColor:'#fff',title:titles,graphic:{elements:g},
  grid:[grid(L1,T1,'#d4e6f1'),grid(L1,T2),grid(L2,T2),grid(L1,T3),grid(L2,T3)],
  xAxis:[
    axisBase(0,{min:-180,max:180,interval:60,z:3,name:'Longitude (deg)',nameGap:31,splitLine:mapGrid},10.5),
    dateAxis(1,-0.219,26.40,dateTicks),
    dateAxis(2,0.515,26.43,dateTicks.slice(1)),
    dateAxis(3,-0.219,26.40,dateTicks,{name:'UTC date',nameGap:50}),
    axisBase(4,{min:-100,max:100,interval:25,name:'Wind speed (m s⁻¹)',nameGap:33},9.5)],
  yAxis:[
    axisBase(0,{min:-90,max:90,interval:30,z:3,name:'Latitude (deg)',nameGap:45,splitLine:mapGrid}),
    customY(1,0,37.44,windTicks,{name:'Wind speed (m s⁻¹)',nameGap:38}),
    axisBase(2,{min:-90,max:90,interval:30,name:'Latitude (deg)',nameGap:46}),
    customY(3,18516,19494.6,altTicks,{name:'Altitude (m AMSL)',nameGap:60}),
    customY(4,0,135.04,freqTicks,{name:'Frequency',nameGap:41})],
  series:[
    {name:'Land',type:'custom',xAxisIndex:0,yAxisIndex:0,z:1,silent:true,data:idx(landShapes),encode:{x:-1,y:-1},renderItem:drawShape(landShapes,true,polyStyle('#e8e8e4','#b9c2c6',0.8))},
    {name:'Water',type:'custom',xAxisIndex:0,yAxisIndex:0,z:1.1,silent:true,data:idx(waterShapes),encode:{x:-1,y:-1},renderItem:drawShape(waterShapes,true,polyStyle('#d4e6f1','#b9c2c6',0.6))},
    {name:'Borders',type:'custom',xAxisIndex:0,yAxisIndex:0,z:1.2,silent:true,data:idx(borderLines),encode:{x:-1,y:-1},renderItem:drawShape(borderLines,false,{fill:'none',stroke:'#dbdcd8',lineWidth:0.8})},
    {name:'Track',type:'scatter',xAxisIndex:0,yAxisIndex:0,z:5,symbolSize:4.8,itemStyle:solid(RED),data:fixLon.map((v,i)=>[v,fixLat[i]])},
    {name:'Launch',type:'scatter',xAxisIndex:0,yAxisIndex:0,z:6,symbolSize:17.6,itemStyle:{color:'#27ae60',opacity:1,borderColor:'#000',borderWidth:1.5},data:[launchFix]},
    {name:'Last fix',type:'scatter',xAxisIndex:0,yAxisIndex:0,z:7,symbol:STAR,symbolSize:23,itemStyle:{color:'#2471a3',opacity:1,borderColor:'#000',borderWidth:1.5},data:[lastFix]},
    {name:'±1σ propagated error',type:'custom',xAxisIndex:1,yAxisIndex:1,data:windBand,encode:{x:0,y:[1,2]},renderItem:drawBand,z:2},
    {name:'Wind speed',type:'scatter',xAxisIndex:1,yAxisIndex:1,symbolSize:4,itemStyle:solid(NAVY),data:windPoints,z:3},
    {name:'Daily mean',type:'line',xAxisIndex:1,yAxisIndex:1,symbol:'none',lineStyle:{color:RED,width:1.5},data:meanDays.map((d,i)=>[d,windMean[i]]),z:4},
    {name:'Latitude',type:'scatter',xAxisIndex:2,yAxisIndex:2,symbolSize:5,itemStyle:solid('#000'),data:fixDays.map((d,i)=>[d,fixLat[i]])},
    {name:'Altitude',type:'scatter',xAxisIndex:3,yAxisIndex:3,symbolSize:4,itemStyle:solid(GRAY),data:altPoints,z:3},
    {name:'Altitude daily mean',type:'line',xAxisIndex:3,yAxisIndex:3,symbol:'none',lineStyle:{color:RED,width:1.5},data:meanDays.map((d,i)=>[d,altMean[i]]),z:4},
    {name:'U (zonal)',type:'custom',xAxisIndex:4,yAxisIndex:4,z:2,data:uBins,encode:{x:[0,1],y:2},renderItem:drawBins('rgba(31,119,180,0.65)','rgba(0,0,0,0.75)')},
    {name:'V (meridional)',type:'custom',xAxisIndex:4,yAxisIndex:4,z:3,data:vBins,encode:{x:[0,1],y:2},renderItem:drawBins('rgba(255,127,14,0.65)','rgba(0,0,0,0.75)')}
  ]
};
echarts.init(document.getElementById('c'),null,{renderer:'canvas'}).setOption(option);
</script></body></html>
